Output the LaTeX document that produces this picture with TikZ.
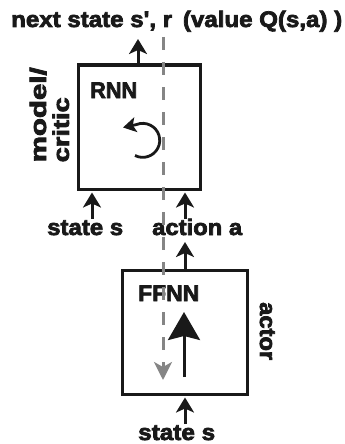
\documentclass[tikz,border=0pt]{standalone}
\usepackage{fontspec}
\usepackage{graphicx}
\newfontfamily\hfont{Liberation Sans}
\usetikzlibrary{arrows.meta,calc}
\newsavebox\fitbox
\newcommand\heavy[1]{\special{pdf:literal direct 2 Tr 0.7 w}#1\special{pdf:literal direct 0 Tr}}
\newcommand\fitw[2]{\sbox\fitbox{#2}\heavy{\scalebox{\fpeval{(#1)/(\the\wd\fitbox)}}[1]{\usebox\fitbox}}}
\begin{document}
\begin{tikzpicture}[x=1pt,y=-1pt,
  lbl/.style={font=\hfont\fontsize{22.5}{22}\selectfont\bfseries, inner sep=0pt, text=black!90},
  boxx/.style={draw=black!90, line width=3pt, inner sep=0pt},
  arr/.style={line width=3pt, draw=black!90, -{Stealth[length=15pt,width=18pt,inset=4pt]}},
  bigarr/.style={line width=3pt, draw=black!90, -{Stealth[length=28pt,width=32pt,inset=4pt]}},
  looparr/.style={line width=2.8pt, draw=black!90, -{Stealth[length=13pt,width=15pt,inset=3pt]}},
  grayarr/.style={line width=3pt, draw=black!48, dash pattern=on 13pt off 12pt,
     -{Stealth[length=18pt,width=18pt,inset=5pt]}}
]
\useasboundingbox (0,0) rectangle (345,444);

% boxes
\node[boxx, minimum width=122pt, minimum height=124pt] (rnn) at (139,127) {};
\node[boxx, minimum width=125pt, minimum height=124pt] (ffnn) at (184.5,332) {};

% labels
\node[lbl, anchor=base west] (title) at (11,27) {\fitw{331pt}{next state s\symbol{39}, r\hspace{0.45em}(value Q(s,a) )}};
\node[lbl, anchor=base west] (rnnl) at (90,98) {\fitw{47pt}{RNN}};
\node[lbl, anchor=base west] (ffnnl) at (138,301) {\fitw{61pt}{FFNN}};
\node[lbl, rotate=90, anchor=north west] (mc) at (29.5,162.5)
  {\begin{tabular}{@{}l@{}}\fitw{95pt}{model/}\\\fitw{65pt}{critic}\end{tabular}};
\node[lbl, rotate=-90, anchor=base west] (act) at (260,302) {\fitw{58pt}{actor}};
\node[lbl, anchor=base west] (s1) at (47,235) {\fitw{76pt}{state s}};
\node[lbl, anchor=base west] (aa) at (152,235) {\fitw{90pt}{action a}};
\node[lbl, anchor=base west] (s2) at (138,440) {\fitw{77pt}{state s}};

% arrow out of RNN
\coordinate (o1) at (138,39);
\draw[arr] (o1 |- rnn.north) -- (o1);

% arrows into RNN
\coordinate (i1) at (92,219);
\coordinate (i2) at (185,219);
\draw[arr] (i1) -- ($(i1 |- rnn.south)+(0,2)$);
\draw[arr] (i2) -- ($(i2 |- rnn.south)+(0,2)$);

% arrow FFNN -> action a
\coordinate (o2) at (185,242);
\draw[arr] (o2 |- ffnn.north) -- (o2);

% arrow into FFNN
\coordinate (i3) at (185,424);
\draw[arr] (i3) -- ($(i3 |- ffnn.south)+(0,2)$);

% big arrow inside FFNN
\coordinate (b0) at (184,377);
\coordinate (b1) at (184,312);
\draw[bigarr] (b0) -- (b1);

% loop arrow inside RNN
\coordinate (l0) at (135,155.5);
\coordinate (l1) at (123,127.5);
\draw[looparr] (l0) arc[start angle=117, end angle=-112, radius=17] -- (l1);

% gray dashed line
\coordinate (d0) at (163,37);
\coordinate (d1) at (163,380);
\draw[grayarr] (d0) -- (d1);
\end{tikzpicture}
\end{document}
